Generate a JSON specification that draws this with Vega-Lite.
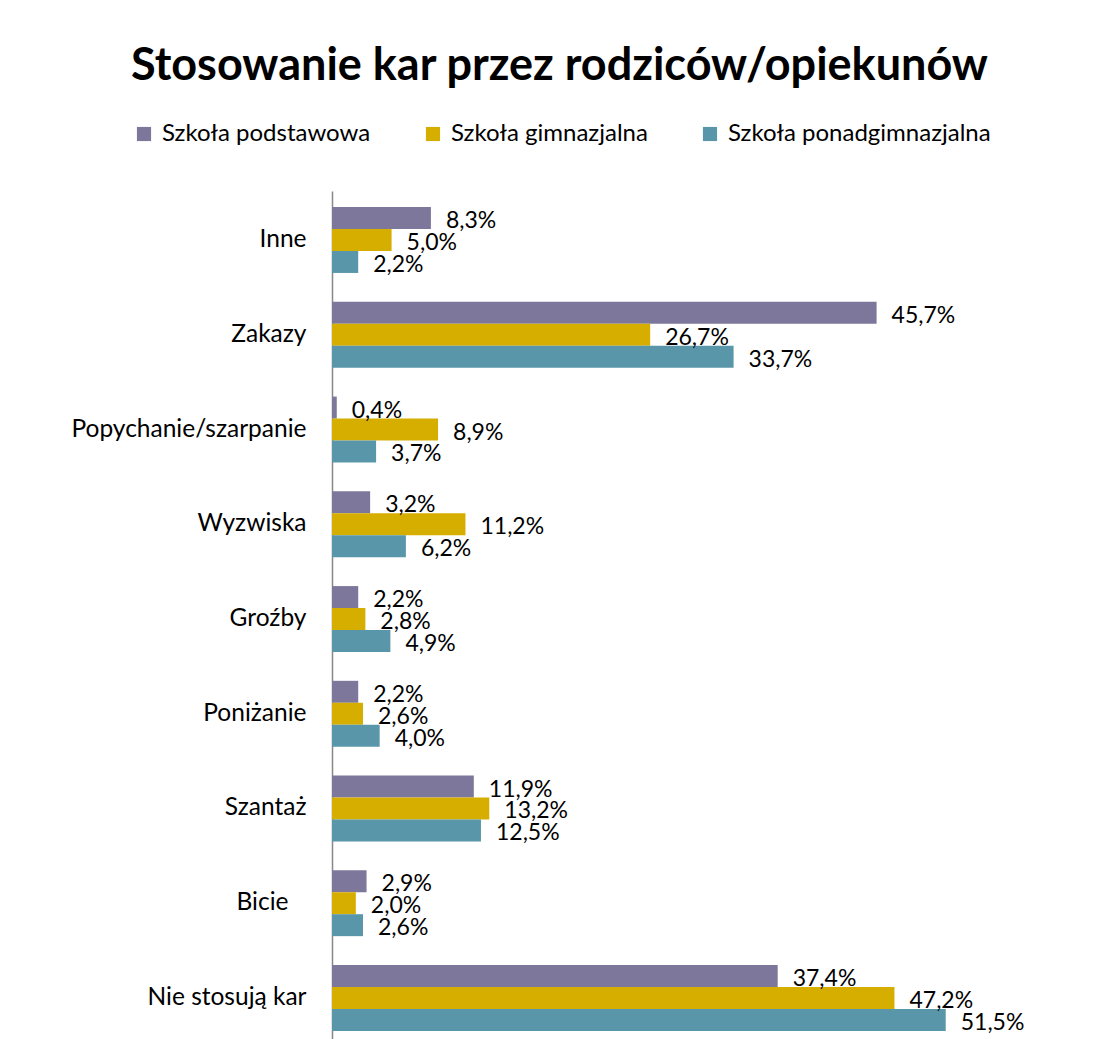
{
  "$schema": "https://vega.github.io/schema/vega-lite/v6.json",
  "width": 715,
  "height": 856,
  "autosize": {"type": "none"},
  "padding": {"left": 332, "top": 191, "right": 47, "bottom": 0},
  "background": "white",
  "title": {
    "text": "Stosowanie kar przez rodziców/opiekunów",
    "anchor": "start",
    "frame": "group",
    "dx": -201,
    "offset": 33,
    "font": "Lato",
    "fontSize": 45,
    "fontWeight": "bold",
    "color": "#000000"
  },
  "config": {
    "locale": {"number": {"decimal": ",", "thousands": " ", "grouping": [3], "currency": ["", " zł"]}},
    "view": {"stroke": null},
    "font": "Lato"
  },
  "data": {
    "values": [
      {"kategoria": "Inne", "szkola": "Szkoła podstawowa", "wartosc": 0.083},
      {"kategoria": "Inne", "szkola": "Szkoła gimnazjalna", "wartosc": 0.050},
      {"kategoria": "Inne", "szkola": "Szkoła ponadgimnazjalna", "wartosc": 0.022},
      {"kategoria": "Zakazy", "szkola": "Szkoła podstawowa", "wartosc": 0.457},
      {"kategoria": "Zakazy", "szkola": "Szkoła gimnazjalna", "wartosc": 0.267},
      {"kategoria": "Zakazy", "szkola": "Szkoła ponadgimnazjalna", "wartosc": 0.337},
      {"kategoria": "Popychanie/szarpanie", "szkola": "Szkoła podstawowa", "wartosc": 0.004},
      {"kategoria": "Popychanie/szarpanie", "szkola": "Szkoła gimnazjalna", "wartosc": 0.089},
      {"kategoria": "Popychanie/szarpanie", "szkola": "Szkoła ponadgimnazjalna", "wartosc": 0.037},
      {"kategoria": "Wyzwiska", "szkola": "Szkoła podstawowa", "wartosc": 0.032},
      {"kategoria": "Wyzwiska", "szkola": "Szkoła gimnazjalna", "wartosc": 0.112},
      {"kategoria": "Wyzwiska", "szkola": "Szkoła ponadgimnazjalna", "wartosc": 0.062},
      {"kategoria": "Groźby", "szkola": "Szkoła podstawowa", "wartosc": 0.022},
      {"kategoria": "Groźby", "szkola": "Szkoła gimnazjalna", "wartosc": 0.028},
      {"kategoria": "Groźby", "szkola": "Szkoła ponadgimnazjalna", "wartosc": 0.049},
      {"kategoria": "Poniżanie", "szkola": "Szkoła podstawowa", "wartosc": 0.022},
      {"kategoria": "Poniżanie", "szkola": "Szkoła gimnazjalna", "wartosc": 0.026},
      {"kategoria": "Poniżanie", "szkola": "Szkoła ponadgimnazjalna", "wartosc": 0.040},
      {"kategoria": "Szantaż", "szkola": "Szkoła podstawowa", "wartosc": 0.119},
      {"kategoria": "Szantaż", "szkola": "Szkoła gimnazjalna", "wartosc": 0.132},
      {"kategoria": "Szantaż", "szkola": "Szkoła ponadgimnazjalna", "wartosc": 0.125},
      {"kategoria": "Bicie", "szkola": "Szkoła podstawowa", "wartosc": 0.029},
      {"kategoria": "Bicie", "szkola": "Szkoła gimnazjalna", "wartosc": 0.020},
      {"kategoria": "Bicie", "szkola": "Szkoła ponadgimnazjalna", "wartosc": 0.026},
      {"kategoria": "Nie stosują kar", "szkola": "Szkoła podstawowa", "wartosc": 0.374},
      {"kategoria": "Nie stosują kar", "szkola": "Szkoła gimnazjalna", "wartosc": 0.472},
      {"kategoria": "Nie stosują kar", "szkola": "Szkoła ponadgimnazjalna", "wartosc": 0.515}
    ]
  },
  "encoding": {
    "y": {
      "field": "kategoria",
      "type": "nominal",
      "sort": null,
      "scale": {"paddingInner": 0.305, "paddingOuter": 0.17},
      "axis": {
        "title": null,
        "ticks": false,
        "domainColor": "#888888",
        "domainWidth": 1.5,
        "labelFont": "Lato",
        "labelFontSize": 24.5,
        "labelColor": "#000000",
        "labelPadding": {"condition": {"test": "datum.value === 'Bicie'", "value": 44}, "value": 26},
        "labelLimit": 400
      }
    },
    "yOffset": {
      "field": "szkola",
      "type": "nominal",
      "sort": ["Szkoła podstawowa", "Szkoła gimnazjalna", "Szkoła ponadgimnazjalna"],
      "scale": {"paddingInner": 0, "paddingOuter": 0}
    },
    "x": {
      "field": "wartosc",
      "type": "quantitative",
      "scale": {"domain": [0, 0.6]},
      "axis": null
    }
  },
  "layer": [
    {
      "mark": {"type": "bar"},
      "encoding": {
        "color": {
          "field": "szkola",
          "type": "nominal",
          "sort": ["Szkoła podstawowa", "Szkoła gimnazjalna", "Szkoła ponadgimnazjalna"],
          "scale": {"range": ["#7c779b", "#d6ae00", "#5996aa"]},
          "legend": {
            "title": null,
            "orient": "none",
            "direction": "horizontal",
            "legendX": -200,
            "legendY": -69,
            "symbolType": "square",
            "symbolSize": 200,
            "symbolStrokeWidth": 0,
            "labelFont": "Lato",
            "labelFontSize": 24,
            "labelColor": "#000000",
            "labelOffset": 6,
            "labelLimit": 400,
            "columnPadding": 50
          }
        }
      }
    },
    {
      "mark": {"type": "text", "align": "left", "baseline": "middle", "dx": 15, "dy": 3, "font": "Lato", "fontSize": 23, "color": "#000000"},
      "encoding": {
        "text": {"field": "wartosc", "type": "quantitative", "format": ".1%"}
      }
    }
  ]
}
